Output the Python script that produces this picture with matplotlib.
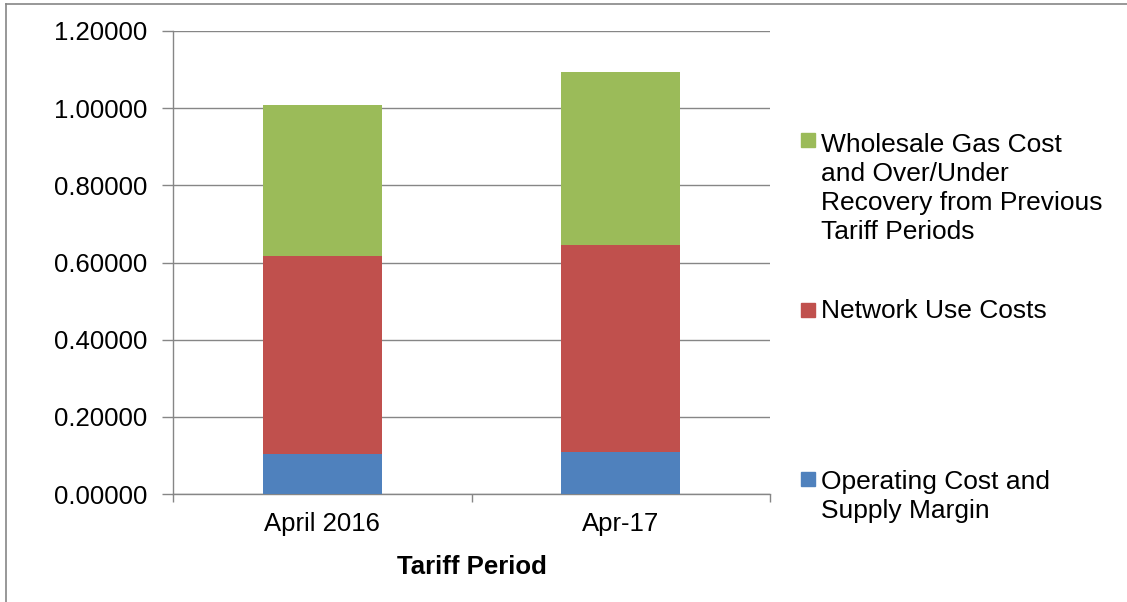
import matplotlib.pyplot as plt
from matplotlib.lines import Line2D
from matplotlib.patches import Rectangle
import numpy as np

plt.rcParams['font.family'] = ['Liberation Sans', 'DejaVu Sans']

# Data
periods = ['April 2016', 'Apr-17']
operating = [0.104, 0.108]
network = [0.513, 0.537]
wholesale = [0.391, 0.450]

series_labels = ['Operating Cost and\nSupply Margin',
                 'Network Use Costs',
                 'Wholesale Gas Cost\nand Over/Under\nRecovery from Previous\nTariff Periods']
colors = ['#4F81BD', '#C0504D', '#9BBB59']
grey = '#868686'

W, H = 1127, 602
fig = plt.figure(figsize=(W / 100, H / 100), dpi=100)
ax = fig.add_axes([173 / W, 1 - 494 / H, (770 - 173) / W, (494 - 31) / H])

x = np.arange(len(periods))
bottom = np.zeros(len(periods))
for vals, col in zip([operating, network, wholesale], colors):
    ax.bar(x, vals, width=0.4, bottom=bottom, color=col, edgecolor='none', zorder=3)
    bottom += np.array(vals)

ax.set_xlim(-0.5, 1.5)
ax.set_ylim(0, 1.2)
ax.set_yticks(np.arange(0, 1.21, 0.2))
ax.set_yticklabels([f'{v:.5f}' for v in np.arange(0, 1.21, 0.2)])
ax.yaxis.grid(True, color=grey, linewidth=1.0, zorder=0)
ax.set_axisbelow(True)

# category boundaries carry tick marks, labels sit at centres
ax.set_xticks([-0.5, 0.5, 1.5])
ax.set_xticklabels([])
ax.set_xticks(x, minor=True)
ax.set_xticklabels(periods, minor=True)
ax.tick_params(axis='x', which='major', length=6, width=1.0, color=grey, direction='out')
ax.tick_params(axis='x', which='minor', length=0, pad=13, labelsize=18.5)
ax.tick_params(axis='y', length=8, width=1.0, color=grey, pad=10.5, labelsize=18.5)

for s in ['top', 'right']:
    ax.spines[s].set_visible(False)
for s in ['left', 'bottom']:
    ax.spines[s].set_color(grey)
    ax.spines[s].set_linewidth(1.0)

ax.set_xlabel('Tariff Period', fontsize=18.5, fontweight='bold', labelpad=14)

# Excel-style legend, entries spread down the right side
# (series index, square centre y, baseline of last text line) in pixels
legend_rows = [(2, 140, 239), (1, 310, 318), (0, 479, 518)]
for idx, sq_y, base_y in legend_rows:
    fig.add_artist(Rectangle((801 / W, 1 - (sq_y + 7) / H), 14 / W, 14 / H,
                             transform=fig.transFigure, color=colors[idx]))
    fig.text(821 / W, 1 - base_y / H, series_labels[idx], fontsize=19,
             va='baseline', ha='left', linespacing=1.27)

# chart frame (only top and left edges are visible in the crop)
fig.add_artist(Line2D([6 / W, 6 / W], [0, 1 - 4 / H], transform=fig.transFigure,
                      color=grey, linewidth=1.2))
fig.add_artist(Line2D([6 / W, 1], [1 - 4 / H, 1 - 4 / H], transform=fig.transFigure,
                      color=grey, linewidth=1.2))

fig.savefig('out.png', dpi=100)
